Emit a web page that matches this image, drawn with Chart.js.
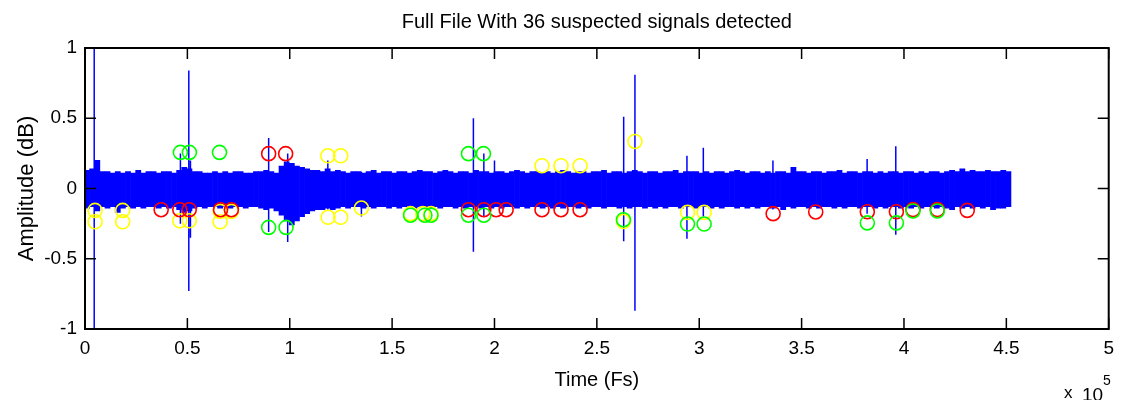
<!DOCTYPE html>
<html>
<head>
<meta charset="utf-8">
<script src="https://cdn.jsdelivr.net/npm/chart.js@4.4.0/dist/chart.umd.min.js"></script>
<style>
  html, body { margin: 0; background: #fff; }
  #wrap { width: 1122px; height: 400px; }
</style>
</head>
<body>
<div id="wrap"><canvas id="chart"></canvas></div>
<script>
// tick labels
const xTickLabels = ['0', '0.5', '1', '1.5', '2', '2.5', '3', '3.5', '4', '4.5', '5'];
const yTickLabels = ['-1', '-0.5', '0', '0.5', '1'];

const noiseStart = 0.01;
const noiseStep = 0.025;
const noiseTop = [
  .13,.14,.20,.12,.12,.11,.12,.11,.12,.11,
  .13,.11,.12,.12,.11,.12,.12,.11,.13,.15,
  .14,.12,.12,.11,.11,.12,.11,.12,.11,.12,
  .12,.11,.11,.12,.12,.13,.12,.11,.16,.19,
  .18,.16,.15,.14,.13,.13,.12,.14,.12,.13,
  .12,.11,.12,.12,.11,.12,.13,.11,.12,.12,
  .11,.12,.12,.11,.12,.13,.12,.12,.11,.12,
  .13,.12,.11,.12,.12,.11,.13,.12,.12,.11,
  .12,.12,.11,.12,.13,.12,.11,.12,.12,.11,
  .12,.11,.12,.13,.12,.11,.12,.12,.11,.12,
  .12,.13,.11,.12,.12,.11,.12,.13,.12,.11,
  .12,.12,.11,.12,.12,.13,.11,.12,.12,.12,
  .11,.12,.11,.12,.12,.11,.12,.13,.12,.11,
  .12,.12,.11,.12,.11,.12,.12,.11,.15,.12,
  .12,.11,.12,.12,.11,.12,.12,.13,.11,.12,
  .12,.11,.12,.12,.11,.12,.11,.12,.12,.11,
  .12,.12,.11,.12,.11,.12,.12,.11,.12,.13,
  .12,.14,.12,.13,.12,.12,.13,.12,.12,.13,
  .12
];
const noiseBottom = [
  -.14,-.13,-.16,-.13,-.14,-.13,-.17,-.14,-.13,-.14,
  -.13,-.14,-.13,-.13,-.14,-.13,-.14,-.13,-.15,-.17,
  -.16,-.14,-.13,-.14,-.13,-.13,-.14,-.13,-.14,-.13,
  -.13,-.14,-.13,-.13,-.14,-.15,-.14,-.16,-.19,-.23,
  -.26,-.23,-.20,-.18,-.16,-.15,-.15,-.14,-.15,-.14,
  -.13,-.14,-.13,-.13,-.14,-.13,-.14,-.13,-.13,-.14,
  -.13,-.14,-.13,-.13,-.14,-.13,-.13,-.14,-.13,-.14,
  -.13,-.13,-.14,-.13,-.14,-.13,-.13,-.14,-.13,-.14,
  -.13,-.14,-.13,-.13,-.14,-.13,-.14,-.13,-.13,-.14,
  -.13,-.14,-.13,-.14,-.13,-.13,-.14,-.13,-.14,-.13,
  -.13,-.14,-.13,-.13,-.14,-.13,-.14,-.13,-.13,-.14,
  -.13,-.14,-.13,-.14,-.13,-.13,-.14,-.13,-.13,-.14,
  -.13,-.13,-.14,-.13,-.14,-.13,-.13,-.14,-.13,-.14,
  -.13,-.14,-.13,-.13,-.14,-.13,-.15,-.13,-.14,-.13,
  -.13,-.14,-.13,-.14,-.13,-.13,-.14,-.13,-.14,-.13,
  -.13,-.14,-.13,-.13,-.14,-.13,-.14,-.13,-.13,-.14,
  -.13,-.14,-.13,-.14,-.13,-.13,-.14,-.13,-.14,-.15,
  -.13,-.14,-.13,-.14,-.13,-.14,-.13,-.15,-.14,-.14,
  -.13
];

// isolated spikes
const spikeX      = [0.045, 0.466, 0.507, 0.515, 0.897, 0.99, 1.186, 1.35, 1.897, 1.948, 2.0, 2.631, 2.686, 2.94, 3.02, 3.36, 3.82, 3.96];
const spikeTop    = [1.0,   0.25,  0.84,  0.2,   0.36,  0.25, 0.2,   0.12, 0.5,   0.25,  0.2, 0.51,  0.81,  0.233, 0.29, 0.2,  0.21, 0.3];
const spikeBottom = [-1.0, -0.25, -0.73, -0.35, -0.31, -0.38, -0.15, -0.2, -0.45, -0.2, -0.12, -0.376, -0.87, -0.357, -0.2, -0.15, -0.18, -0.33];

// detected signals
const greenX = [0.466, 0.51, 0.657, 1.873, 1.946, 0.897, 0.982, 1.59, 1.66, 1.69, 1.873, 1.948, 2.63, 2.943, 3.024, 3.821, 3.963, 4.044, 4.163];
const greenY = [0.257, 0.257, 0.257, 0.248, 0.248, -0.277, -0.277, -0.19, -0.19, -0.19, -0.19, -0.19, -0.222, -0.253, -0.253, -0.245, -0.245, -0.16, -0.16];
const redX = [0.897, 0.98, 0.372, 0.463, 0.509, 0.662, 0.715, 1.873, 1.948, 2.008, 2.057, 2.232, 2.325, 2.418, 3.361, 3.569, 3.821, 3.963, 4.044, 4.163, 4.309];
const redY = [0.248, 0.248, -0.151, -0.151, -0.151, -0.151, -0.151, -0.151, -0.151, -0.151, -0.151, -0.151, -0.151, -0.151, -0.179, -0.167, -0.165, -0.165, -0.15, -0.15, -0.156];
const yellowX = [1.186, 1.249, 2.232, 2.325, 2.418, 2.686, 0.049, 0.049, 0.184, 0.184, 0.463, 0.509, 0.66, 0.66, 0.715, 1.187, 1.249, 1.35, 1.59, 1.65, 1.69, 2.63, 2.943, 3.024];
const yellowY = [0.233, 0.233, 0.162, 0.162, 0.162, 0.335, -0.156, -0.237, -0.156, -0.237, -0.23, -0.23, -0.163, -0.237, -0.163, -0.205, -0.205, -0.139, -0.179, -0.179, -0.179, -0.235, -0.17, -0.17];

const FONT = "'Liberation Sans', Arial, sans-serif";

const bandData = noiseTop.map((t, i) => ({ x: noiseStart + i * noiseStep, y: [noiseBottom[i], t] }));
const spikeData = spikeX.flatMap((x, i) => [{ x: x, y: spikeTop[i] }, { x: x, y: spikeBottom[i] }, { x: x, y: null }]);
const pts = (xs, ys) => xs.map((x, i) => ({ x: x, y: ys[i] }));

function markers(label, xs, ys, color) {
  return {
    type: 'line', label: label, data: pts(xs, ys), showLine: false,
    pointStyle: 'circle', pointRadius: 7, pointBorderWidth: 1.6,
    pointBorderColor: color, pointBackgroundColor: 'rgba(0,0,0,0)', order: 0
  };
}

// MATLAB style box, inward ticks and the exponent note
const boxPlugin = {
  id: 'box',
  afterDraw(chart) {
    const { ctx, chartArea: a, scales: { x, y } } = chart;
    ctx.save();
    ctx.strokeStyle = '#000';
    ctx.lineWidth = 2;
    ctx.strokeRect(a.left, a.top, a.right - a.left, a.bottom - a.top);
    ctx.lineWidth = 1.5;
    ctx.beginPath();
    x.ticks.forEach(t => {
      const px = x.getPixelForValue(t.value);
      ctx.moveTo(px, a.bottom); ctx.lineTo(px, a.bottom - 11);
      ctx.moveTo(px, a.top); ctx.lineTo(px, a.top + 11);
    });
    y.ticks.forEach(t => {
      const py = y.getPixelForValue(t.value);
      ctx.moveTo(a.left, py); ctx.lineTo(a.left + 11, py);
      ctx.moveTo(a.right, py); ctx.lineTo(a.right - 11, py);
    });
    ctx.stroke();
    ctx.fillStyle = '#000';
    ctx.textBaseline = 'alphabetic';
    ctx.font = '17px ' + FONT;
    ctx.fillText('x', 1064, 398);
    ctx.font = '19px ' + FONT;
    ctx.fillText('10', 1082, 401);
    ctx.font = '14px ' + FONT;
    ctx.fillText('5', 1103, 385);
    ctx.restore();
  }
};

new Chart(document.getElementById('chart'), {
  type: 'bar',
  data: {
    datasets: [
      markers('green', greenX, greenY, '#00ff00'),
      markers('red', redX, redY, '#ff0000'),
      markers('yellow', yellowX, yellowY, '#ffff00'),
      {
        type: 'line', label: 'spikes', data: spikeData, spanGaps: false,
        borderColor: '#0000ff', borderWidth: 1.5, pointRadius: 0, order: 1
      },
      {
        type: 'bar', label: 'signal', data: bandData,
        backgroundColor: '#0000ff', borderWidth: 0,
        barPercentage: 1, categoryPercentage: 1, order: 2
      }
    ]
  },
  options: {
    responsive: true,
    maintainAspectRatio: false,
    animation: false,
    layout: { padding: { left: 0, right: 12, top: 0, bottom: 0 } },
    plugins: {
      legend: { display: false },
      tooltip: { enabled: false },
      title: {
        display: true,
        fullSize: false,
        text: 'Full File With 36 suspected signals detected',
        color: '#000',
        font: { family: FONT, size: 20, weight: 'normal' },
        padding: { top: 10, bottom: 14 }
      }
    },
    scales: {
      x: {
        type: 'linear', min: 0, max: 5, offset: false,
        grid: { display: false, drawTicks: false },
        border: { display: false },
        ticks: {
          stepSize: 0.5, color: '#000', padding: 8, maxRotation: 0,
          font: { family: FONT, size: 19 },
          callback: (v, i) => xTickLabels[i]
        },
        title: {
          display: true, text: 'Time (Fs)', color: '#000',
          font: { family: FONT, size: 20 },
          padding: { top: 0, bottom: 8 }
        },
        afterFit: s => { s.height = 71; }
      },
      y: {
        min: -1, max: 1,
        grid: { display: false, drawTicks: false },
        border: { display: false },
        ticks: {
          stepSize: 0.5, color: '#000', padding: 8,
          font: { family: FONT, size: 19 },
          callback: (v, i) => yTickLabels[i]
        },
        title: {
          display: true, text: 'Amplitude (dB)', color: '#000',
          font: { family: FONT, size: 22 },
          padding: { top: 14, bottom: 0 }
        },
        afterFit: s => { s.width = 85; }
      }
    }
  },
  plugins: [boxPlugin]
});
</script>
</body>
</html>
